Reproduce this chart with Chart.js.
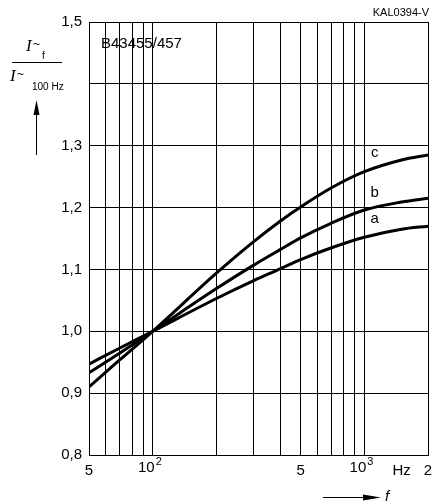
<!DOCTYPE html>
<html>
<head>
<meta charset="utf-8">
<script src="https://cdn.jsdelivr.net/npm/chart.js@4.4.0/dist/chart.umd.min.js"></script>
<style>
  html, body { margin: 0; padding: 0; background: #fff; }
  #wrap { width: 434px; height: 504px; position: relative; }
</style>
</head>
<body>
<div id="wrap"><canvas id="curve-chart"></canvas></div>
<script>
// frequency in Hz
var freq = [50, 70, 100, 200, 300, 400, 500, 700, 1000, 1500, 2000];
// ratio I~f / I~100Hz
var curveA = [0.947, 0.973, 1.0, 1.053, 1.082, 1.101, 1.116, 1.135, 1.152, 1.165, 1.170];
var curveB = [0.933, 0.965, 1.0, 1.069, 1.107, 1.132, 1.151, 1.175, 1.196, 1.209, 1.215];
var curveC = [0.910, 0.954, 1.0, 1.094, 1.145, 1.178, 1.201, 1.232, 1.258, 1.277, 1.285];

var gridFreq = [50, 60, 70, 80, 90, 100, 200, 300, 400, 500, 600, 700, 800, 900, 1000, 1500, 2000];
var freqLabels = { 50: "5", 500: "5", 1500: "Hz", 2000: "2" };
var decadeLabels = { 100: "2", 1000: "3" };
var yLabels = { "0.8": "0,8", "0.9": "0,9", "1.0": "1,0", "1.1": "1,1", "1.2": "1,2", "1.3": "1,3", "1.5": "1,5" };

var FONT = "'Liberation Sans', Arial, sans-serif";

function points(ys) {
    return freq.map(function (f, i) { return { x: f, y: ys[i] }; });
}

function line(label, ys) {
    return {
        label: label,
        data: points(ys),
        borderColor: "#000",
        borderWidth: 3,
        pointRadius: 0,
        cubicInterpolationMode: "monotone",
        fill: false
    };
}

var annotations = {
    id: "annotations",
    afterDraw: function (chart) {
        var ctx = chart.ctx;
        var x = chart.scales.x, y = chart.scales.y;
        ctx.save();
        ctx.fillStyle = "#000";
        ctx.strokeStyle = "#000";
        ctx.textBaseline = "middle";

        ctx.font = "15px " + FONT;
        ctx.textAlign = "left";
        ctx.fillText("B43455/457", 101, 44);

        ctx.font = "11px " + FONT;
        ctx.textAlign = "right";
        ctx.fillText("KAL0394-V", 429, 13);

        // decade labels 10^2, 10^3
        Object.keys(decadeLabels).forEach(function (v) {
            var px = x.getPixelForValue(Number(v));
            ctx.font = "15px " + FONT;
            ctx.textAlign = "right";
            ctx.fillText("10", px + 2, 468);
            ctx.font = "11px " + FONT;
            ctx.textAlign = "left";
            ctx.fillText(decadeLabels[v], px + 3, 462);
        });

        // curve letters
        ctx.font = "15px " + FONT;
        ctx.textAlign = "center";
        var lx = x.getPixelForValue(1120);
        ctx.fillText("c", lx, y.getPixelForValue(1.288));
        ctx.fillText("b", lx, y.getPixelForValue(1.223));
        ctx.fillText("a", lx, y.getPixelForValue(1.181));

        // y axis title as fraction
        ctx.textAlign = "left";
        ctx.font = "italic 17px 'Liberation Serif', serif";
        ctx.fillText("I", 26, 47);
        ctx.fillText("I", 10, 77);
        ctx.font = "12px " + FONT;
        ctx.fillText("~", 33, 45);
        ctx.fillText("~", 17, 75);
        ctx.font = "10px " + FONT;
        ctx.fillText("f", 42, 56);
        ctx.fillText("100 Hz", 32, 87);
        ctx.lineWidth = 1;
        ctx.beginPath();
        ctx.moveTo(12, 62.5);
        ctx.lineTo(62, 62.5);
        ctx.stroke();

        // up arrow
        ctx.beginPath();
        ctx.moveTo(36.5, 155);
        ctx.lineTo(36.5, 110);
        ctx.stroke();
        ctx.beginPath();
        ctx.moveTo(36.5, 100);
        ctx.lineTo(33.5, 115);
        ctx.lineTo(39.5, 115);
        ctx.closePath();
        ctx.fill();

        // right arrow with f
        ctx.beginPath();
        ctx.moveTo(323, 497.5);
        ctx.lineTo(368, 497.5);
        ctx.stroke();
        ctx.beginPath();
        ctx.moveTo(381, 497.5);
        ctx.lineTo(363, 494.5);
        ctx.lineTo(363, 500.5);
        ctx.closePath();
        ctx.fill();
        ctx.font = "italic 15px " + FONT;
        ctx.fillText("f", 385, 497);
        ctx.restore();
    }
};

var canvas = document.getElementById("curve-chart");

var chart = new Chart(canvas, {
    type: "line",
    data: {
        datasets: [line("a", curveA), line("b", curveB), line("c", curveC)]
    },
    options: {
        responsive: true,
        maintainAspectRatio: false,
        animation: false,
        layout: { padding: { top: 22, right: 6, left: 0, bottom: 0 } },
        plugins: {
            legend: { display: false },
            tooltip: { enabled: false }
        },
        scales: {
            x: {
                type: "logarithmic",
                min: 50,
                max: 2000,
                afterBuildTicks: function (scale) {
                    scale.ticks = gridFreq.map(function (v) { return { value: v }; });
                },
                afterFit: function (scale) {
                    scale.height = 49;
                    scale.paddingLeft = 0;
                    scale.paddingRight = 0;
                },
                grid: {
                    color: function (c) { return c.tick && c.tick.value === 1500 ? "rgba(0,0,0,0)" : "#000"; },
                    lineWidth: 1,
                    drawTicks: false
                },
                border: { color: "#000", width: 1 },
                ticks: {
                    autoSkip: false,
                    maxRotation: 0,
                    padding: 7,
                    color: "#000",
                    font: { family: FONT, size: 15 },
                    callback: function (value) { return freqLabels[value] || ""; }
                }
            },
            y: {
                min: 0.8,
                max: 1.5,
                afterFit: function (scale) {
                    scale.width = 89;
                    scale.paddingTop = 0;
                    scale.paddingBottom = 0;
                },
                grid: { color: "#000", lineWidth: 1, drawTicks: false },
                border: { color: "#000", width: 1 },
                ticks: {
                    stepSize: 0.1,
                    padding: 7,
                    color: "#000",
                    font: { family: FONT, size: 15 },
                    callback: function (value) { return yLabels[value.toFixed(1)] || ""; }
                }
            }
        }
    },
    plugins: [annotations]
});
</script>
</body>
</html>
